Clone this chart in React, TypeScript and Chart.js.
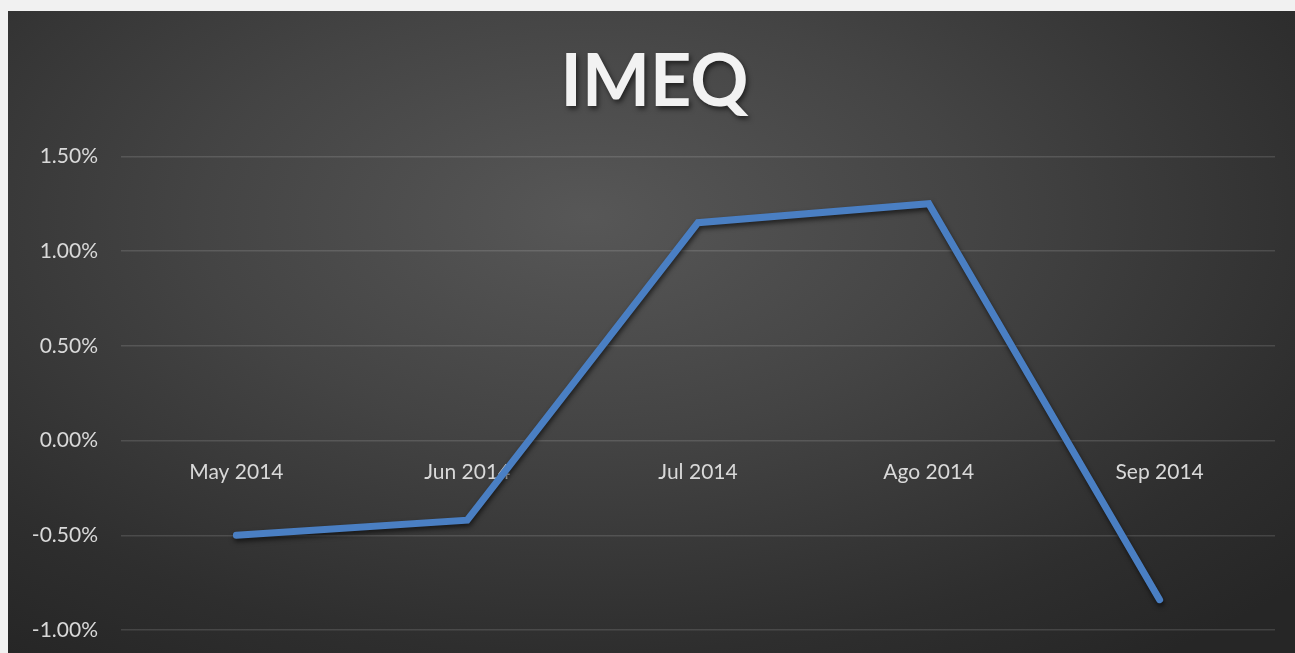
import React, { useEffect, useRef } from "react";
import { Chart, registerables } from "chart.js";

Chart.register(...registerables);

const categories = ["May 2014", "Jun 2014", "Jul 2014", "Ago 2014", "Sep 2014"];
const imeqValues = [-0.5, -0.42, 1.15, 1.25, -0.84];
const yTicks = [-1.0, -0.5, 0.0, 0.5, 1.0, 1.5];
const chartTitle = "IMEQ";

const FONT = "Lato, 'Open Sans', sans-serif";

const shadowPlugin = {
  id: "shadows",
  beforeDraw(chart: any) {
    const t = chart.titleBlock;
    if (t && !t.__patched) {
      const orig = t.draw;
      t.draw = function (area: any) {
        const ctx = chart.ctx;
        ctx.save();
        ctx.translate(13, 2);
        ctx.shadowColor = "rgba(0,0,0,0.55)";
        ctx.shadowBlur = 5;
        ctx.shadowOffsetX = 2;
        ctx.shadowOffsetY = 3;
        orig.call(this, area);
        ctx.restore();
      };
      t.__patched = true;
    }
  },
  beforeDatasetsDraw(chart: any) {
    const ctx = chart.ctx;
    ctx.save();
    ctx.shadowColor = "rgba(0,0,0,0.6)";
    ctx.shadowBlur = 5;
    ctx.shadowOffsetX = 1;
    ctx.shadowOffsetY = 3;
  },
  afterDatasetsDraw(chart: any) {
    chart.ctx.restore();
  },
};

export default function App() {
  const ref = useRef<HTMLCanvasElement | null>(null);

  useEffect(() => {
    if (!ref.current) return;
    const chart = new Chart(ref.current, {
      type: "line",
      data: {
        labels: categories,
        datasets: [
          {
            label: chartTitle,
            data: imeqValues,
            borderColor: "#4a7fc3",
            borderWidth: 7,
            borderCapStyle: "round",
            borderJoinStyle: "miter",
            pointRadius: 0,
            pointHoverRadius: 0,
            tension: 0,
            fill: false,
          },
        ],
      },
      options: {
        animation: false,
        responsive: false,
        maintainAspectRatio: false,
        layout: { padding: { left: 0, right: 20, top: 0, bottom: 23 } },
        plugins: {
          legend: { display: false },
          tooltip: { enabled: false },
          title: {
            display: true,
            text: chartTitle,
            color: "#f2f2f2",
            font: { family: FONT, size: 72, weight: "bold" },
            padding: { top: 27, bottom: 32 },
          },
        },
        scales: {
          x: {
            type: "category",
            offset: true,
            position: { y: 0 } as any,
            grid: { display: false, drawTicks: false },
            border: { display: false },
            ticks: {
              color: "#d9d9d9",
              font: { family: FONT, size: 21 },
              padding: 19,
              maxRotation: 0,
              autoSkip: false,
            },
            afterFit: (s: any) => {
              s.height = 0;
            },
          },
          y: {
            min: yTicks[0],
            max: yTicks[yTicks.length - 1],
            afterBuildTicks: (s: any) => {
              s.ticks = yTicks.map((v) => ({ value: v }));
            },
            grid: {
              color: "rgba(255,255,255,0.13)",
              lineWidth: 1.5,
              drawTicks: false,
            },
            border: { display: false },
            ticks: {
              color: "#d9d9d9",
              font: { family: FONT, size: 21 },
              padding: 23,
              callback: (v: any) => Number(v).toFixed(2) + "%",
            },
            afterFit: (s: any) => {
              s.width = 113;
              s.paddingTop = 0;
              s.paddingBottom = 0;
            },
          },
        },
      },
      plugins: [shadowPlugin],
    });
    return () => chart.destroy();
  }, []);

  return (
    <>
      <div
        style={{
          position: "fixed",
          left: 0,
          top: 0,
          right: 0,
          bottom: 0,
          background: "#f1f1f1",
        }}
      />
      <div
        style={{
          position: "fixed",
          left: 8,
          top: 11,
          width: 1287,
          height: 642,
          background:
            "radial-gradient(ellipse 75% 85% at 45% 32%, #575757 0%, #444 40%, #2e2e2e 80%, #262626 100%)",
        }}
      >
        <canvas ref={ref} width={1287} height={642} style={{ display: "block" }} />
      </div>
    </>
  );
}
